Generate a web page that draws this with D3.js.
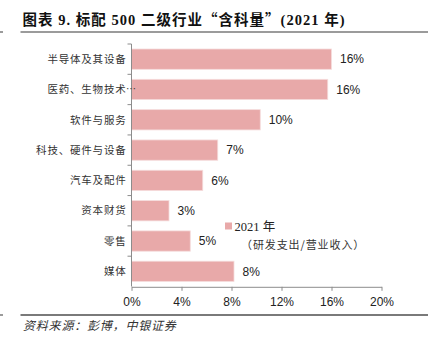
<!DOCTYPE html>
<html>
<head>
<meta charset="utf-8">
<script src="https://cdn.jsdelivr.net/npm/d3@7/dist/d3.min.js"></script>
<style>
  html, body { margin: 0; padding: 0; background: #fff; }
  svg { display: block; }
</style>
</head>
<body>
<script>
// R&D intensity (R&D spend / revenue) by industry group, 2021
const categories = ["半导体及其设备", "医药、生物技术", "软件与服务", "科技、硬件与设备", "汽车及配件", "资本财货", "零售", "媒体"];
const values = [0.160, 0.157, 0.103, 0.069, 0.057, 0.030, 0.047, 0.082];
const xTicks = [0, 0.04, 0.08, 0.12, 0.16, 0.20];
const truncated = ["医药、生物技术"];
// title pieces: [text, uses CJK punctuation font]
const titleParts = [["图表 9. 标配 500 二级行业", false], ["“含科量”", true], ["(2021 年)", false]];
const sourceText = "资料来源：彭博，中银证券";
const legendLabel = "2021 年";
const legendNote = "（研发支出/营业收入）";

const W = 442, H = 344;
const barColor = "#e8a9a9";
const axisColor = "#8c8c8c";
const latin = "'Liberation Sans Narrow', 'Liberation Sans', Arial, sans-serif";
const cjk = "'Noto Sans CJK SC', sans-serif";
const serifMix = "'Liberation Serif', " + cjk;

const svg = d3.select("body").append("svg").attr("width", W).attr("height", H);

// Title and rules
svg.append("text")
  .attr("x", 22.5).attr("y", 25)
  .attr("font-family", serifMix)
  .attr("font-weight", "bold").attr("font-size", 14.5)
  .attr("fill", "#111")
  .attr("textLength", 322).attr("lengthAdjust", "spacing")
  .selectAll("tspan")
  .data(titleParts)
  .join("tspan")
  .attr("font-family", d => d[1] ? cjk : serifMix)
  .text(d => d[0]);
svg.append("line").attr("x1", 20.5).attr("x2", 428).attr("y1", 32).attr("y2", 32)
  .attr("stroke", "#7a7a7a").attr("stroke-width", 1.5);
svg.append("line").attr("x1", 0).attr("x2", 3).attr("y1", 32).attr("y2", 32)
  .attr("stroke", "#7a7a7a").attr("stroke-width", 1.5);
svg.append("line").attr("x1", 20.5).attr("x2", 428).attr("y1", 315).attr("y2", 315)
  .attr("stroke", "#7a7a7a").attr("stroke-width", 2);
svg.append("line").attr("x1", 0).attr("x2", 3).attr("y1", 315).attr("y2", 315)
  .attr("stroke", "#7a7a7a").attr("stroke-width", 1.5);

// Source note
svg.append("text")
  .attr("x", 23).attr("y", 330)
  .attr("font-family", cjk).attr("font-style", "italic").attr("font-size", 12)
  .attr("fill", "#333").attr("letter-spacing", 0.8)
  .text(sourceText);

// Scales
const x = d3.scaleLinear().domain([0, 0.20]).range([131.5, 381.5]);
const y = d3.scaleBand().domain(categories).range([44, 286.5])
  .paddingInner(0.33).paddingOuter(0.165);

// Bars
svg.append("g").selectAll("rect")
  .data(categories)
  .join("rect")
  .attr("x", x(0))
  .attr("y", d => y(d))
  .attr("width", (d, i) => x(values[i]) - x(0))
  .attr("height", y.bandwidth())
  .attr("fill", barColor)
  .attr("stroke", "#f5dcdc").attr("stroke-width", 0.8);

// Value labels
const fmt = d3.format(".0%");
svg.append("g").selectAll("text")
  .data(categories)
  .join("text")
  .attr("x", (d, i) => x(values[i]) + 8.5)
  .attr("y", d => y(d) + y.bandwidth() / 2)
  .attr("dy", "0.35em")
  .attr("font-family", latin).attr("font-size", 12)
  .attr("fill", "#222")
  .text((d, i) => fmt(values[i]));

// X axis
const xAxis = svg.append("g")
  .attr("transform", `translate(0,${286.8})`)
  .call(d3.axisBottom(x).tickValues(xTicks).tickFormat(fmt).tickSize(4).tickSizeOuter(0));
xAxis.select(".domain").attr("stroke", axisColor);
xAxis.selectAll(".tick line").attr("stroke", axisColor);
xAxis.selectAll(".tick text")
  .attr("font-family", latin).attr("font-size", 12).attr("fill", "#222")
  .attr("y", 11);

// Y axis: line with ticks at band boundaries
const yAxis = svg.append("g");
yAxis.append("line")
  .attr("x1", x(0)).attr("x2", x(0))
  .attr("y1", y.range()[0]).attr("y2", y.range()[1])
  .attr("stroke", axisColor);
const bounds = categories.map(c => y(c) - (y.step() - y.bandwidth()) / 2);
yAxis.selectAll("line.tick")
  .data(bounds)
  .join("line")
  .attr("class", "tick")
  .attr("x1", x(0) - 4).attr("x2", x(0))
  .attr("y1", d => d).attr("y2", d => d)
  .attr("stroke", axisColor);

// Category labels
const labels = svg.append("g");
labels.selectAll("text")
  .data(categories)
  .join("text")
  .attr("x", 126.5)
  .attr("y", d => y(d) + y.bandwidth() / 2)
  .attr("dy", "0.36em")
  .attr("text-anchor", "end")
  .attr("font-family", cjk).attr("font-size", 10.5)
  .attr("letter-spacing", 0.8)
  .attr("fill", "#333")
  .text(d => d);
labels.selectAll("text.more")
  .data(truncated)
  .join("text")
  .attr("class", "more")
  .attr("x", 126)
  .attr("y", d => y(d) + y.bandwidth() / 2)
  .attr("dy", "0.36em")
  .attr("font-family", cjk).attr("font-size", 10)
  .attr("fill", "#444")
  .text("⋯");

// Legend
const legend = svg.append("g");
legend.append("rect")
  .attr("x", 225).attr("y", 222.5).attr("width", 7).attr("height", 7)
  .attr("fill", barColor);
legend.append("text")
  .attr("x", 234.5).attr("y", 230.5)
  .attr("font-family", serifMix).attr("font-size", 12.5)
  .attr("fill", "#222")
  .text(legendLabel);
legend.append("text")
  .attr("x", 241).attr("y", 249)
  .attr("font-family", cjk).attr("font-size", 11)
  .attr("letter-spacing", 0.9)
  .attr("fill", "#333")
  .text(legendNote);
</script>
</body>
</html>
